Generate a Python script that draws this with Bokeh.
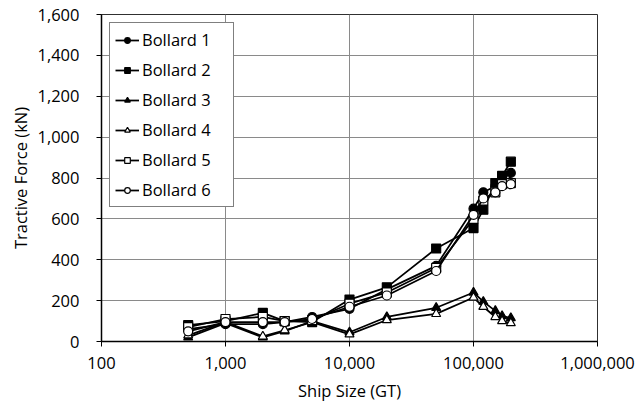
from bokeh.plotting import figure
from bokeh.models import Range1d, FixedTicker, NumeralTickFormatter, LogTicker
from bokeh.embed import file_html
from bokeh.resources import INLINE

sizes = [500, 1000, 2000, 3000, 5000, 10000, 20000, 50000, 100000, 120000, 150000, 170000, 200000]
bollard1 = [60, 85, 85, 95, 120, 160, 255, 370, 650, 730, 760, 800, 825]
bollard2 = [80, 100, 140, 100, 95, 205, 265, 455, 555, 645, 775, 810, 880]
bollard3 = [20, 90, 20, 50, 100, 45, 120, 165, 240, 195, 150, 125, 115]
bollard4 = [30, 95, 25, 55, 95, 35, 105, 135, 215, 170, 120, 100, 90]
bollard5 = [70, 110, 120, 100, 105, 185, 240, 360, 600, 690, 730, 770, 775]
bollard6 = [50, 95, 95, 95, 110, 170, 225, 345, 620, 700, 730, 760, 770]
names = ["Bollard 1", "Bollard 2", "Bollard 3", "Bollard 4", "Bollard 5", "Bollard 6"]
y_ticks = [0, 200, 400, 600, 800, 1000, 1200, 1400, 1600]

FONT = "Open Sans"
FS = "16.5px"

p = figure(frame_width=496, frame_height=327, min_border_left=101, min_border_right=40,
           min_border_top=14, min_border_bottom=60,
           x_axis_type="log", x_range=Range1d(100, 1e6), y_range=Range1d(0, 1600),
           output_backend="svg", toolbar_location=None)
p.outline_line_color = "#303030"
p.outline_line_width = 1

series = [bollard1, bollard2, bollard3, bollard4, bollard5, bollard6]
markers = ["circle", "square", "triangle", "triangle", "square", "circle"]
filled = [True, True, True, False, False, False]

for name, ys, m, f in zip(names, series, markers, filled):
    p.line(sizes, ys, line_color="black", line_width=1.75, legend_label=name)
    p.scatter(sizes, ys, marker=m, size=9, line_color="black", line_width=1.2,
              fill_color="black" if f else "white", legend_label=name)

# axes
p.xaxis.ticker = LogTicker(desired_num_ticks=5, num_minor_ticks=0)
p.xaxis.formatter = NumeralTickFormatter(format="0,0")
p.yaxis.ticker = FixedTicker(ticks=y_ticks)
p.yaxis.formatter = NumeralTickFormatter(format="0,0")
for ax in (p.xaxis[0], p.yaxis[0]):
    ax.axis_line_color = "black"
    ax.axis_line_width = 1.5
    ax.major_tick_line_color = "black"
    ax.major_tick_in = 0
    ax.major_tick_out = 5
    ax.minor_tick_line_color = None
    ax.major_label_text_font = FONT
    ax.major_label_text_font_size = FS
    ax.major_label_text_color = "black"
    ax.axis_label_text_font = FONT
    ax.axis_label_text_font_size = FS
    ax.axis_label_text_font_style = "normal"
    ax.axis_label_text_color = "black"
p.xaxis.axis_label = "Ship Size (GT)"
p.yaxis.axis_label = "Tractive Force (kN)"
p.xaxis.major_label_standoff = 10
p.yaxis.major_label_standoff = 17
p.xaxis.axis_label_standoff = 7
p.yaxis.axis_label_standoff = 2

p.xgrid.grid_line_color = "#8a8a8a"
p.ygrid.grid_line_color = "#8a8a8a"
p.xgrid.grid_line_width = 1
p.ygrid.grid_line_width = 1
p.xgrid.ticker = p.xaxis[0].ticker
p.ygrid.ticker = p.yaxis[0].ticker

lg = p.legend[0]
lg.location = "top_left"
lg.margin = 8
lg.padding = 5
lg.spacing = 7
lg.glyph_height = 14
lg.label_height = 14
lg.glyph_width = 24
lg.label_width = 86
lg.label_standoff = 3
lg.label_text_font = FONT
lg.label_text_font_size = FS
lg.label_text_color = "black"
lg.border_line_color = "black"
lg.border_line_width = 1
lg.background_fill_color = "white"
lg.background_fill_alpha = 1

open("out.html", "w").write(file_html(p, INLINE))
